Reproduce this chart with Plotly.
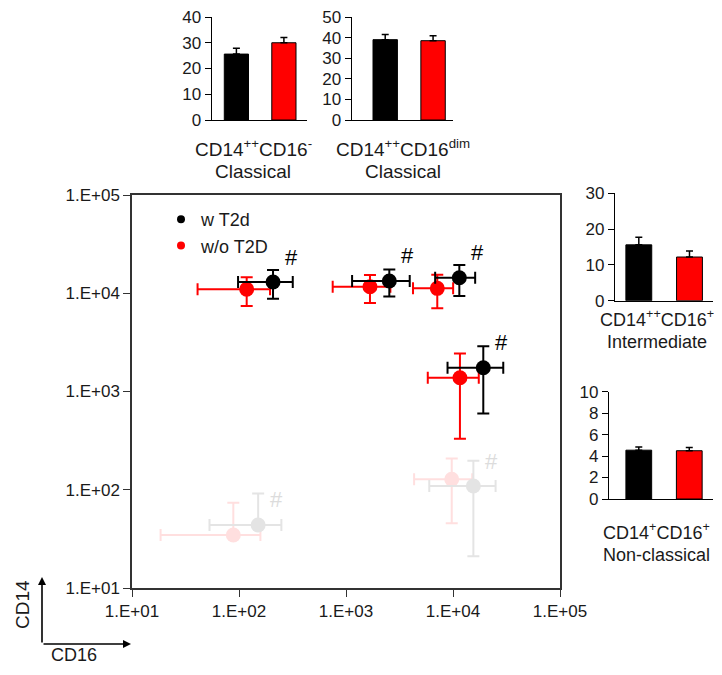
import numpy as np
import plotly.graph_objects as go

FONT = "Liberation Sans, Arial, sans-serif"
TXT = "#1a1a1a"

# ---------------- data ----------------
groups = ["w T2d", "w/o T2D"]
subsets = ["Classical (CD16-)", "Classical (CD16dim)", "Intermediate", "Non-classical"]

# main scatter: CD16 (x) vs CD14 (y), mean +/- error
w_cd16 = [208, 2540, 11460, 19190]
w_cd16_err = [110, 1400, 4650, 10300]
w_cd14 = [13000, 13340, 14400, 1746]
w_cd14_err = [4200, 4100, 5000, 1150]

wo_cd16 = [118, 1675, 7130, 11610]
wo_cd16_err = [77, 924, 2900, 5800]
wo_cd14 = [10970, 11660, 11220, 1380]
wo_cd14_err = [3550, 3700, 4200, 1050]

# faint (background) populations
faint_w_cd16 = [151, 15500]
faint_w_cd16_err = [98, 9500]
faint_w_cd14 = [43.8, 109]
faint_w_cd14_err_up = [48, 88]
faint_w_cd14_err_dn = [0, 88]

faint_wo_cd16 = [88.5, 9730]
faint_wo_cd16_err = [70, 5400]
faint_wo_cd14 = [34.6, 127.7]
faint_wo_cd14_err_up = [39, 80]
faint_wo_cd14_err_dn = [0, 82]

# significance marks: index of w T2d points flagged
hash_main = [0, 1, 2, 3]
hash_faint = [0, 1]

# bar charts (% of monocytes), [w T2d, w/o T2D]
bar_classical = [25.6, 30.0]
bar_classical_err = [2.3, 2.0]
bar_dim = [39.0, 38.5]
bar_dim_err = [2.5, 2.4]
bar_inter = [15.6, 12.2]
bar_inter_err = [2.1, 1.7]
bar_nonclass = [4.55, 4.5]
bar_nonclass_err = [0.3, 0.3]

log_ticks = [1e1, 1e2, 1e3, 1e4, 1e5]
log_ticktext = ["1.E+01", "1.E+02", "1.E+03", "1.E+04", "1.E+05"]

BLACK = "#000000"
RED = "#ff0000"
FGRAY = "#e4e4e4"
FPINK = "#ffdfdf"

# the page body has an 8px margin, so the figure is 16px smaller than the window
OFF = 8
W, H = 722 - 2 * OFF, 675 - 2 * OFF


def px(x):
    return (x - OFF) / W


def py(y):
    return 1 - (y - OFF) / H


fig = go.Figure()


def add_points(xs, xe, ys, ye_up, ye_dn, color):
    fig.add_trace(go.Scatter(
        x=xs, y=ys, mode="markers", xaxis="x", yaxis="y",
        marker=dict(color=color, size=15, line=dict(width=0)),
        error_x=dict(type="data", array=xe, color=color, thickness=2, width=6),
        error_y=dict(type="data", array=ye_up, arrayminus=ye_dn, symmetric=False,
                     color=color, thickness=2, width=6),
        showlegend=False, hoverinfo="skip"))


add_points(faint_wo_cd16, faint_wo_cd16_err, faint_wo_cd14, faint_wo_cd14_err_up, faint_wo_cd14_err_dn, FPINK)
add_points(faint_w_cd16, faint_w_cd16_err, faint_w_cd14, faint_w_cd14_err_up, faint_w_cd14_err_dn, FGRAY)
add_points(wo_cd16, wo_cd16_err, wo_cd14, wo_cd14_err, wo_cd14_err, RED)
add_points(w_cd16, w_cd16_err, w_cd14, w_cd14_err, w_cd14_err, BLACK)

# legend entries
for g, c in zip(groups, [BLACK, RED]):
    fig.add_trace(go.Scatter(x=[None], y=[None], mode="markers", name=g,
                             marker=dict(color=c, size=8), xaxis="x", yaxis="y"))

# bar charts
bar_sets = [
    ("x2", "y2", bar_classical, bar_classical_err),
    ("x3", "y3", bar_dim, bar_dim_err),
    ("x4", "y4", bar_inter, bar_inter_err),
    ("x5", "y5", bar_nonclass, bar_nonclass_err),
]
for xa, ya, vals, errs in bar_sets:
    fig.add_trace(go.Bar(
        x=[0, 1], y=vals, xaxis=xa, yaxis=ya, width=0.51,
        marker=dict(color=[BLACK, RED], line=dict(color="#000000", width=1)),
        error_y=dict(type="data", array=errs, arrayminus=[0, 0], symmetric=False,
                     color="#000000", thickness=1.5, width=3.5),
        showlegend=False, hoverinfo="skip"))

annotations = []
# hash marks
for i in hash_main:
    annotations.append(dict(x=np.log10(w_cd16[i]), y=np.log10(w_cd14[i]), xref="x", yref="y",
                            text="#", showarrow=False, xshift=18, yshift=25,
                            font=dict(family=FONT, size=22, color=BLACK)))
for i in hash_faint:
    annotations.append(dict(x=np.log10(faint_w_cd16[i]), y=np.log10(faint_w_cd14[i]), xref="x", yref="y",
                            text="#", showarrow=False, xshift=18, yshift=25,
                            font=dict(family=FONT, size=22, color="#dcdcdc")))

# category labels
labels = [
    ("CD14<sup>++</sup>CD16<sup>-</sup>", "Classical", 253, 148, 172, 19),
    ("CD14<sup>++</sup>CD16<sup>dim</sup>", "Classical", 403, 148, 172, 19),
    ("CD14<sup>++</sup>CD16<sup>+</sup>", "Intermediate", 657, 319, 342, 18),
    ("CD14<sup>+</sup>CD16<sup>+</sup>", "Non-classical", 656, 531, 555, 18),
]
for l1, l2, cx, y1, y2, fs in labels:
    annotations.append(dict(x=px(cx), y=py(y1), xref="paper", yref="paper", text=l1,
                            showarrow=False, xanchor="center", yanchor="middle",
                            font=dict(family=FONT, size=fs, color=TXT)))
    annotations.append(dict(x=px(cx), y=py(y2), xref="paper", yref="paper", text=l2,
                            showarrow=False, xanchor="center", yanchor="middle",
                            font=dict(family=FONT, size=fs, color=TXT)))

# axis direction arrows
annotations.append(dict(x=px(42), y=py(577), xref="paper", yref="paper", text="",
                        showarrow=True, ax=0, ay=67, arrowhead=2, arrowsize=1,
                        arrowwidth=1.6, arrowcolor="#000"))
annotations.append(dict(x=px(131), y=py(644), xref="paper", yref="paper", text="",
                        showarrow=True, ax=-89, ay=0, arrowhead=2, arrowsize=1,
                        arrowwidth=1.6, arrowcolor="#000"))
annotations.append(dict(x=px(22), y=py(605), xref="paper", yref="paper", text="CD14",
                        showarrow=False, textangle=-90, xanchor="center", yanchor="middle",
                        font=dict(family=FONT, size=19, color=TXT)))
annotations.append(dict(x=px(74), y=py(655), xref="paper", yref="paper", text="CD16",
                        showarrow=False, xanchor="center", yanchor="middle",
                        font=dict(family=FONT, size=18, color=TXT)))

AX = "#333333"
main_axis = dict(type="log", range=[1, 5], tickvals=log_ticks, ticktext=log_ticktext,
                 showgrid=False, zeroline=False, showline=True, linecolor=AX, linewidth=1.5,
                 mirror=True, ticks="outside", ticklen=7, tickcolor=AX, tickwidth=1.2,
                 automargin=False, ticklabeloverflow="allow",
                 tickfont=dict(family=FONT, size=17, color=TXT))


def bar_y(rng, dtick, dom):
    return dict(range=rng, dtick=dtick, domain=dom, showgrid=False, zeroline=False,
                showline=True, linecolor="#000", linewidth=1.2, ticks="outside",
                ticklen=6, tickcolor="#000", tickwidth=1, automargin=False,
                ticklabeloverflow="allow",
                tickfont=dict(family=FONT, size=17, color=TXT))


def bar_x(rng, dom, anchor):
    return dict(range=rng, domain=dom, anchor=anchor, showgrid=False, zeroline=False,
                showline=True, linecolor="#000", linewidth=1.2, showticklabels=False,
                ticks="", automargin=False)


fig.update_layout(
    width=W, height=H, margin=dict(l=0, r=0, t=0, b=0, pad=0),
    paper_bgcolor="white", plot_bgcolor="white",
    font=dict(family=FONT, color=TXT),
    xaxis=dict(domain=[px(132), px(560)], anchor="y", **main_axis),
    yaxis=dict(domain=[py(588), py(195)], anchor="x", **main_axis),
    xaxis2=bar_x([-0.52, 1.48], [px(211.7), px(306.7)], "y2"),
    yaxis2=dict(anchor="x2", **bar_y([0, 40], 10, [py(120), py(17)])),
    xaxis3=bar_x([-0.70, 1.41], [px(351.7), px(452.7)], "y3"),
    yaxis3=dict(anchor="x3", **bar_y([0, 50], 10, [py(120), py(17)])),
    xaxis4=bar_x([-0.47, 1.47], [px(615), px(713.3)], "y4"),
    yaxis4=dict(anchor="x4", **bar_y([0, 30], 10, [py(300.7), py(193.3)])),
    xaxis5=bar_x([-0.59, 1.47], [px(609), px(713)], "y5"),
    yaxis5=dict(anchor="x5", **bar_y([0, 10], 2, [py(499), py(391.7)])),
    legend=dict(x=px(161), y=py(201), xanchor="left", yanchor="top",
                bgcolor="rgba(0,0,0,0)", borderwidth=0,
                font=dict(family=FONT, size=18, color=TXT), itemsizing="trace",
                tracegroupgap=0),
    annotations=annotations,
    bargap=0.4,
)

fig.write_html("out.html")
